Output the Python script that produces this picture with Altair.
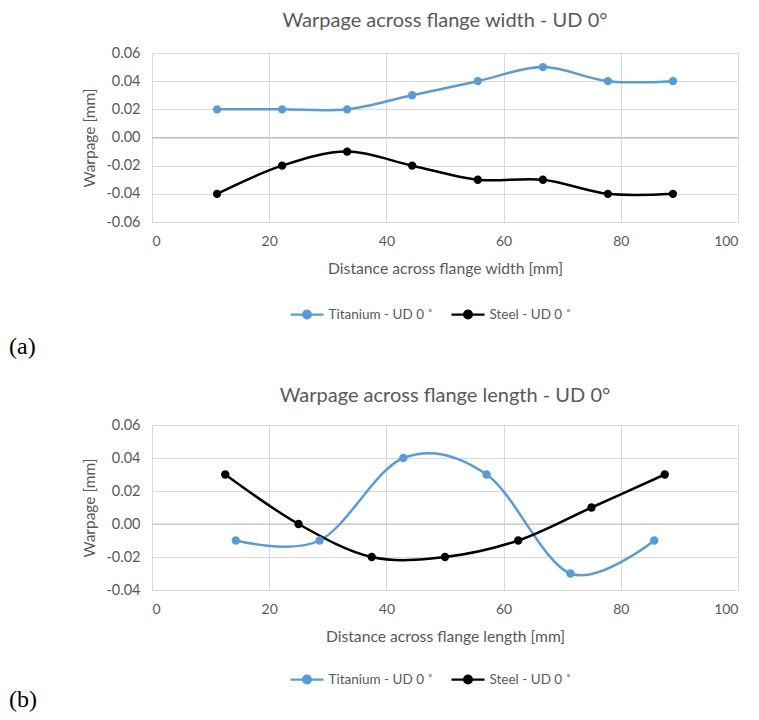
import altair as alt
import pandas as pd

# ---- data ----
series_names = ["Titanium - UD 0 ˚", "Steel - UD 0 ˚"]
series_colors = ["#5B9BD5", "#000000"]

# (a) width
a_x = [11.1, 22.2, 33.3, 44.4, 55.6, 66.7, 77.8, 88.9]
a_titanium = [0.02, 0.02, 0.02, 0.03, 0.04, 0.05, 0.04, 0.04]
a_steel = [-0.04, -0.02, -0.01, -0.02, -0.03, -0.03, -0.04, -0.04]

# (b) length
b_x_titanium = [14.3, 28.6, 42.9, 57.1, 71.4, 85.7]
b_titanium = [-0.01, -0.01, 0.04, 0.03, -0.03, -0.01]
b_x_steel = [12.5, 25.0, 37.5, 50.0, 62.5, 75.0, 87.5]
b_steel = [0.03, 0.00, -0.02, -0.02, -0.01, 0.01, 0.03]

x_ticks = [0, 20, 40, 60, 80, 100]

FONT = "Lato"
GRAY = "#595959"
GRID = "#D9D9D9"

def frame(xs, ys, name):
    return pd.DataFrame({"x": xs, "y": ys, "series": name})

df_a = pd.concat([frame(a_x, a_titanium, series_names[0]),
                  frame(a_x, a_steel, series_names[1])])
df_b = pd.concat([frame(b_x_titanium, b_titanium, series_names[0]),
                  frame(b_x_steel, b_steel, series_names[1])])

legend_symbol = ("M-1.5,0 L1.5,0 M-0.35,0 A0.35,0.35 0 1,0 0.35,0 "
                 "A0.35,0.35 0 1,0 -0.35,0 Z")


def panel(df, title, xtitle, ydomain, yticks, height, letter, letter_y, leg_y,
          title_offset):
    xenc = alt.X("x:Q", scale=alt.Scale(domain=[0, 100], nice=False),
                 axis=alt.Axis(values=x_ticks, tickCount=20, title=xtitle, grid=True,
                               gridColor=GRID, domain=False, ticks=False,
                               labelColor=GRAY, labelFont=FONT, labelFontSize=14,
                               labelPadding=12, titleColor=GRAY, titleFont=FONT,
                               titleFontSize=15.7, titleFontWeight="normal",
                               titlePadding=13))
    yaxis = alt.Axis(values=yticks, tickCount=20, title="Warpage [mm]", grid=True,
                     gridColor=GRID, domain=False, ticks=False,
                     labelOverlap=False, labelBound=False,
                     labelExpr="replace(format(datum.value, '.2f'), '\u2212', '-')",
                     labelColor=GRAY, labelFont=FONT, labelFontSize=14.5,
                     labelPadding=12, titleColor=GRAY, titleFont=FONT,
                     titleFontSize=15.5, titleFontWeight="normal",
                     titlePadding=8)
    yscale = alt.Scale(domain=ydomain, nice=False, zero=False)
    yenc = alt.Y("y:Q", scale=yscale, axis=yaxis)
    color = alt.Color("series:N",
                      scale=alt.Scale(domain=series_names, range=series_colors),
                      sort=series_names,
                      legend=alt.Legend(orient="none", direction="horizontal",
                                        legendX=142.5, legendY=leg_y,
                                        title=None, symbolType=legend_symbol,
                                        symbolSize=484, symbolStrokeWidth=2.25,
                                        labelFont=FONT, labelFontSize=13.5,
                                        labelColor=GRAY, labelOffset=9,
                                        columnPadding=13))
    base = alt.Chart(df)
    zero = alt.Chart(pd.DataFrame({"y": [0]})).mark_rule(
        color="#BFBFBF", strokeWidth=1).encode(y=yenc)
    line = base.mark_line(interpolate="cardinal", strokeWidth=2.5).encode(
        x=xenc, y=alt.Y("y:Q", scale=yscale, axis=yaxis), color=color,
        detail="series:N")
    pts = base.mark_point(filled=True, size=70, opacity=1).encode(
        x="x:Q", y="y:Q",
        color=alt.Color("series:N", scale=alt.Scale(domain=series_names,
                                                     range=series_colors)))
    lab = alt.Chart(pd.DataFrame({"t": [letter]})).mark_text(
        align="left", baseline="middle", font="Liberation Serif", fontSize=24,
        color="#000000").encode(text="t:N", x=alt.value(-143), y=alt.value(letter_y))
    return alt.layer(zero, line, pts, lab).properties(
        width=586, height=height,
        title=alt.TitleParams(title, font=FONT, fontSize=20, fontWeight="normal",
                              color=GRAY, anchor="middle", offset=title_offset))


chart_a = panel(df_a, "Warpage across flange width - UD 0°",
                "Distance across flange width [mm]", [-0.06, 0.06],
                [-0.06, -0.04, -0.02, 0.0, 0.02, 0.04, 0.06], 169, "(a)", 294, 249, 14)
chart_b = panel(df_b, "Warpage across flange length - UD 0°",
                "Distance across flange length [mm]", [-0.04, 0.06],
                [-0.04, -0.02, 0.0, 0.02, 0.04, 0.06], 165, "(b)", 275, 242, 11)

chart = alt.vconcat(chart_a, chart_b, spacing=25).resolve_scale(
    color="independent", x="independent", y="independent").properties(
    padding={"left": 0, "top": 2, "right": 0, "bottom": 0}).configure_view(
    stroke=None).configure(background="white")

chart.save("out.html", embed_options={"renderer": "svg", "actions": False})
